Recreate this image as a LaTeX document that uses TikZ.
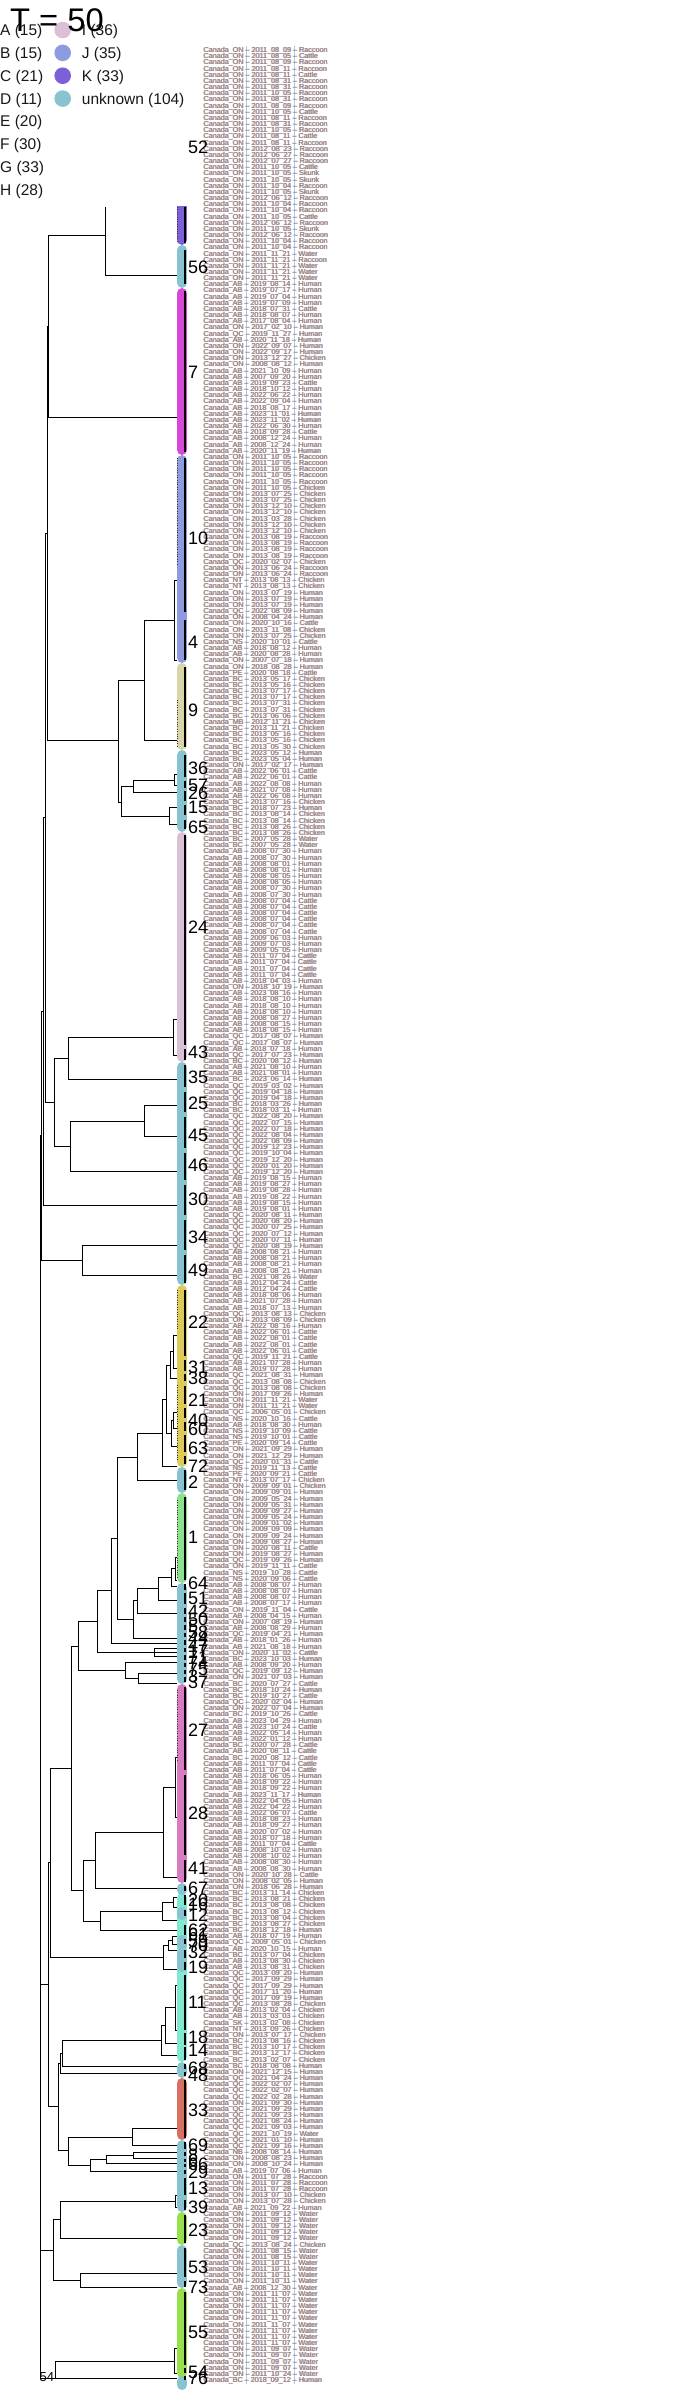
\documentclass[tikz,border=0pt]{standalone}
\usepackage{fontspec}
\setmainfont{Liberation Sans}
\definecolor{cK}{HTML}{7D60D9}
\definecolor{cJ}{HTML}{8E9BDF}
\definecolor{cI}{HTML}{D9C0D6}
\definecolor{cU}{HTML}{88C3D0}
\definecolor{cH}{HTML}{D848D8}
\definecolor{cD}{HTML}{D7D5A9}
\definecolor{cY}{HTML}{DCCA59}
\definecolor{cG}{HTML}{8DE08D}
\definecolor{cP}{HTML}{D77CC0}
\definecolor{cA}{HTML}{80E7D1}
\definecolor{cR}{HTML}{D77062}
\definecolor{cL}{HTML}{97E04C}
\definecolor{labdark}{HTML}{6A5870}
\definecolor{laborange}{HTML}{D6A06A}
\definecolor{labblue}{HTML}{7F96D8}
\definecolor{labline}{HTML}{A8CCF0}
\def\hR{Raccoon}\def\hC{Cattle}\def\hH{Human}\def\hK{Chicken}\def\hW{Water}\def\hS{Skunk}
\newcommand\br[5]{\draw[tree] (#3,#2)--(#1,#2)--(#1,#4)--(#5,#4);}
\begin{document}
\begin{tikzpicture}[x=1pt,y=-1pt,
  tree/.style={line width=0.9pt,black},
  lab/.style={anchor=base west,inner sep=0pt,font=\fontsize{7.2}{7.2}\selectfont},
  num/.style={anchor=base west,inner sep=0pt,font=\fontsize{18}{18}\selectfont},
  leg/.style={anchor=base west,inner sep=0pt,font=\fontsize{15.5}{15.5}\selectfont,text=black!90},
  midline/.style={line width=1.7pt,black},
  seg/.style={line width=10.6pt,line cap=round},
  tick/.style={line width=0.7pt,black!80,dash pattern=on 1pt off 1.4pt}]
\useasboundingbox (0,0) rectangle (672,2400);
\fill[white] (0,0) rectangle (672,2400);
\def\L{176.5}
% faint vertical guide lines in the label column
\draw[labline,line width=0.6pt] (246,46)--(246,2384);
\draw[labline,line width=0.6pt] (294,46)--(294,2384);
% ---------------- leaf labels ----------------
\foreach \pp/\yy/\mm/\dd/\hh [count=\i] in {
ON/2011/08/09/R,ON/2011/08/05/C,ON/2011/08/09/R,ON/2011/08/11/R,ON/2011/08/11/C,ON/2011/08/31/R,ON/2011/08/31/R,ON/2011/10/05/R,ON/2011/08/31/R,ON/2011/08/09/R,
ON/2011/10/05/C,ON/2011/08/11/R,ON/2011/08/31/R,ON/2011/10/05/R,ON/2011/08/11/C,ON/2011/08/11/R,ON/2012/08/23/R,ON/2012/06/27/R,ON/2012/07/27/R,ON/2011/10/05/C,
ON/2011/10/05/S,ON/2011/10/05/S,ON/2011/10/04/R,ON/2011/10/05/S,ON/2012/06/12/R,ON/2011/10/04/R,ON/2011/10/04/R,ON/2011/10/05/C,ON/2012/06/12/R,ON/2011/10/05/S,
ON/2012/06/12/R,ON/2011/10/04/R,ON/2011/10/04/R,ON/2011/11/21/W,ON/2011/11/21/R,ON/2011/11/21/W,ON/2011/11/21/W,ON/2011/11/21/W,
AB/2019/08/14/H,AB/2019/07/17/H,AB/2019/07/04/H,AB/2019/07/09/H,AB/2018/07/31/C,AB/2018/08/07/H,AB/2017/08/04/H,ON/2017/02/10/H,QC/2019/11/27/H,AB/2020/11/18/H,
ON/2022/09/07/H,ON/2022/09/17/H,ON/2013/12/27/K,ON/2008/08/12/H,AB/2021/10/09/H,AB/2007/09/20/H,AB/2019/09/23/C,AB/2018/10/12/H,AB/2022/06/22/H,AB/2022/09/04/H,
AB/2018/08/17/H,AB/2023/11/01/H,AB/2023/11/02/H,AB/2022/06/30/H,AB/2018/09/28/C,AB/2008/12/24/H,AB/2008/12/24/H,AB/2020/11/19/H,
ON/2011/10/05/R,ON/2011/10/05/R,ON/2011/10/05/R,
ON/2011/10/05/R,ON/2011/10/05/R,ON/2011/10/05/K,ON/2013/07/25/K,ON/2013/07/25/K,ON/2013/12/10/K,ON/2013/12/10/K,ON/2013/03/28/K,ON/2013/12/10/K,ON/2013/12/10/K,
ON/2013/08/19/R,ON/2013/08/19/R,ON/2013/08/19/R,ON/2013/08/19/R,QC/2020/02/07/K,ON/2013/06/24/R,ON/2013/06/24/R,NT/2013/08/13/K,NT/2013/08/13/K,ON/2013/07/19/H,
ON/2013/07/19/H,ON/2013/07/19/H,QC/2022/08/09/H,ON/2008/04/24/H,ON/2020/10/16/C,ON/2013/11/08/K,ON/2013/07/25/K,NS/2020/10/01/C,AB/2018/08/12/H,AB/2020/08/28/H,
ON/2007/07/18/H,ON/2018/08/28/H,PE/2020/08/18/C,BC/2013/05/17/K,BC/2013/05/16/K,BC/2013/07/17/K,BC/2013/07/17/K,BC/2013/07/31/K,BC/2013/07/31/K,BC/2013/06/06/K,
MB/2012/11/21/K,BC/2013/11/21/K,BC/2013/05/16/K,BC/2013/05/16/K,BC/2013/05/30/K,BC/2023/05/12/H,BC/2023/05/04/H,ON/2017/02/17/H,AB/2022/06/01/C,AB/2022/06/01/C,
AB/2022/08/08/H,AB/2021/07/08/H,AB/2022/06/08/H,BC/2013/07/16/K,BC/2018/07/23/H,BC/2013/08/14/K,BC/2013/08/14/K,BC/2013/08/26/K,BC/2013/08/26/K,BC/2007/05/28/W,
BC/2007/05/28/W,AB/2008/07/30/H,AB/2008/07/30/H,AB/2008/08/01/H,AB/2008/08/01/H,AB/2008/08/05/H,AB/2008/08/05/H,AB/2008/07/30/H,AB/2008/07/30/H,AB/2008/07/04/C,
AB/2008/07/04/C,AB/2008/07/04/C,AB/2008/07/04/C,AB/2008/07/04/C,AB/2008/07/04/C,AB/2009/06/03/H,AB/2009/07/03/H,AB/2009/05/05/H,AB/2011/07/04/C,AB/2011/07/04/C,
AB/2011/07/04/C,AB/2011/07/04/C,AB/2018/04/03/H,ON/2018/10/19/H,AB/2023/08/16/H,AB/2018/08/10/H,AB/2018/08/10/H,AB/2018/08/10/H,
AB/2008/08/27/H,AB/2008/08/15/H,AB/2018/08/15/H,QC/2017/08/07/H,QC/2017/08/07/H,AB/2018/07/18/H,QC/2017/07/23/H,
BC/2020/08/12/H,AB/2021/08/10/H,AB/2021/08/01/H,BC/2023/06/14/H,QC/2019/03/02/H,QC/2019/04/18/H,QC/2019/04/18/H,BC/2018/03/26/H,BC/2018/03/11/H,QC/2022/08/20/H,
QC/2022/07/15/H,QC/2022/07/18/H,QC/2022/08/04/H,QC/2022/08/09/H,QC/2019/12/23/H,QC/2019/10/04/H,QC/2019/12/20/H,QC/2020/01/20/H,QC/2019/12/20/H,AB/2019/08/15/H,
AB/2019/08/27/H,AB/2019/08/28/H,AB/2019/08/22/H,AB/2019/08/15/H,AB/2019/08/01/H,QC/2020/08/11/H,QC/2020/08/20/H,QC/2020/07/25/H,QC/2020/07/12/H,QC/2020/07/11/H,
QC/2020/08/19/H,AB/2008/08/21/H,AB/2008/08/21/H,AB/2008/08/21/H,AB/2008/08/21/H,BC/2021/08/26/W,
AB/2012/04/24/C,AB/2012/04/24/C,AB/2018/08/06/H,AB/2021/07/28/H,AB/2018/07/13/H,QC/2013/08/13/K,ON/2013/08/09/K,AB/2022/08/16/H,AB/2022/06/01/C,AB/2022/08/01/C,
AB/2022/08/01/C,AB/2022/06/01/C,QC/2019/11/21/C,AB/2021/07/28/H,AB/2019/07/28/H,QC/2021/08/31/H,QC/2013/08/08/K,QC/2013/08/08/K,
ON/2017/09/26/H,ON/2011/11/21/W,ON/2011/11/21/W,QC/2006/05/01/K,NS/2020/10/16/C,AB/2018/08/30/H,NS/2019/10/09/C,NS/2019/10/01/C,PE/2020/09/14/C,ON/2021/09/29/H,
ON/2021/12/29/H,QC/2020/01/31/C,NS/2019/11/13/C,PE/2020/09/21/C,NT/2013/07/17/K,ON/2009/09/01/K,ON/2009/09/01/H,ON/2009/05/24/H,ON/2009/05/31/H,ON/2009/09/27/H,
ON/2009/05/24/H,ON/2009/01/02/H,ON/2009/09/09/H,ON/2009/09/24/H,ON/2009/08/27/H,ON/2020/08/11/C,ON/2019/08/27/H,QC/2019/09/26/H,ON/2019/11/11/C,NS/2019/10/28/C,
NS/2020/09/06/C,AB/2008/08/07/H,AB/2008/08/07/H,AB/2008/08/07/H,AB/2008/07/17/H,ON/2019/11/04/C,AB/2008/04/15/H,ON/2007/08/19/H,AB/2008/08/29/H,QC/2019/04/21/H,
AB/2018/01/26/H,AB/2021/08/18/H,ON/2020/11/02/C,BC/2023/10/03/H,AB/2008/09/20/H,QC/2019/09/12/H,ON/2021/07/03/H,BC/2020/07/27/C,BC/2018/10/24/H,BC/2019/10/27/C,
QC/2020/02/04/H,ON/2022/07/04/H,BC/2019/10/26/C,AB/2023/04/29/H,AB/2023/10/24/C,AB/2022/05/14/H,AB/2022/01/12/H,BC/2020/07/28/C,AB/2020/08/11/C,BC/2020/08/12/C,
AB/2011/07/04/C,AB/2011/07/04/C,AB/2018/06/05/H,AB/2018/09/22/H,AB/2018/09/22/H,AB/2023/11/17/H,AB/2022/04/05/H,AB/2022/04/22/H,AB/2022/06/07/C,AB/2018/08/23/H,
AB/2018/09/27/H,AB/2020/07/02/H,AB/2018/07/18/H,AB/2011/07/04/C,AB/2008/10/02/H,AB/2008/10/02/H,AB/2008/08/30/H,AB/2008/08/30/H,ON/2020/10/28/C,ON/2008/02/05/H,
ON/2018/06/28/H,BC/2013/11/14/K,BC/2013/08/21/K,BC/2013/08/08/K,BC/2013/08/12/K,BC/2013/08/04/K,BC/2013/08/27/K,BC/2018/12/18/H,AB/2018/07/19/H,QC/2009/05/01/K,
AB/2020/10/15/H,BC/2013/07/04/K,AB/2013/08/30/K,AB/2013/08/31/K,QC/2013/09/20/H,QC/2017/09/29/H,QC/2017/09/29/H,QC/2017/11/20/H,QC/2017/09/19/H,QC/2013/08/28/K,
AB/2013/02/04/K,AB/2013/03/03/K,SK/2013/02/08/K,NT/2013/09/26/K,ON/2013/07/17/K,BC/2013/08/16/K,BC/2013/10/17/K,BC/2013/12/17/K,BC/2013/02/07/K,BC/2018/08/08/H,
ON/2021/12/15/H,QC/2021/04/24/H,QC/2022/02/07/H,QC/2022/02/07/H,QC/2022/02/28/H,ON/2021/09/30/H,QC/2021/09/29/H,QC/2021/09/23/H,QC/2021/08/24/H,QC/2021/09/03/H,
QC/2021/10/19/W,QC/2021/01/10/H,QC/2021/09/16/H,NB/2008/08/14/H,ON/2008/08/23/H,ON/2008/10/24/H,AB/2019/07/06/H,ON/2011/07/28/R,ON/2011/07/28/R,ON/2011/07/28/R,
ON/2013/07/10/K,ON/2013/07/28/K,AB/2021/09/22/H,ON/2011/09/12/W,ON/2011/09/12/W,ON/2011/09/12/W,ON/2011/09/12/W,ON/2011/09/12/W,QC/2013/08/24/K,ON/2011/08/15/W,
ON/2011/08/15/W,
ON/2011/10/11/W,ON/2011/10/11/W,ON/2011/10/11/W,ON/2011/10/11/W,AB/2008/12/30/W,ON/2011/11/07/W,ON/2011/11/07/W,ON/2011/11/07/W,ON/2011/11/07/W,ON/2011/11/07/W,
ON/2011/11/07/W,ON/2011/11/07/W,ON/2011/11/07/W,ON/2011/11/07/W,ON/2011/09/07/W,ON/2011/09/07/W,ON/2011/09/07/W,ON/2011/09/07/W,ON/2011/10/24/W,BC/2018/09/12/H}{
  \pgfmathsetmacro\ly{50+(\i-1)*6.164+2.6}
  \node[lab,text=labblue] at (203.8,\ly) {Canada\_\pp\ – \yy\_\mm\_\dd\ – \csname h\hh\endcsname};
  \node[lab,text=laborange] at (203,\ly) {Canada\_\pp\ – \yy\_\mm\_\dd\ – \csname h\hh\endcsname};
  \node[lab,text=labdark,opacity=0.5] (leaf\i) at (203.4,\ly) {Canada\_\pp\ – \yy\_\mm\_\dd\ – \csname h\hh\endcsname};
}
% ---------------- coloured bar ----------------
\begin{scope}
\clip (170,207) rectangle (196,2400);
\foreach \a/\b/\c in {288/455/cH,663/750/cD,832/1062/cI,1285/1467/cY,1493/1583/cG,1684/1883/cP,1893/2062/cA,2078/2140/cR,2212/2245/cL,2288/2378/cL,196/245/cK,455/663/cJ}
  \draw[seg,color=\c] (182,\a+5.3)--(182,\b-5.3);
\foreach \a/\b in {245/288,750/832,1062/1285,1467/1493,1583/1684,1883/1895,1907/1920,1935/1950,1948/1972,2062/2078,2140/2212,2245/2288,2376/2390}
  \draw[seg,color=cU] (182,\a+5.3)--(182,\b-5.3);
\foreach \a/\b in {207/243,458/565,700/746,1290/1330,1385/1460,1500/1578,1690/1760}
  \draw[tick] (177,\a)--(177,\b);
\foreach \a/\b in {207/243,250/284,291/452,458/612,620/660,667/747,755/777,781/788,791/801,805/815,820/829,835/1045,1049/1060,1065/1087,1092/1112,1117/1148,1153/1180,1185/1215,1220/1250,1255/1283,1290/1356,1360/1371,1374/1381,1386/1404,1408/1418,1422/1431,1435/1452,1456/1464,1470/1490,1497/1580,1584/1590,1593/1604,1608/1614,1617/1622,1625/1630,1633/1637,1640/1645,1648/1652,1655/1660,1663/1667,1670/1674,1677/1682,1687/1770,1775/1855,1860/1882,1886/1891,1895/1905,1910/1916,1925/1935,1939/1944,1950/1958,1962/1970,1975/2030,2033/2045,2047/2060,2064/2069,2072/2076,2080/2138,2142/2149,2152/2156,2159/2162,2164/2167,2170/2174,2178/2195,2200/2210,2215/2243,2248/2277,2281/2287,2292/2365,2368/2373,2376/2380}
  \draw[midline] (185.2,\a)--(185.2,\b);
\end{scope}
% ---------------- cluster numbers ----------------
\foreach \n/\y [count=\k] in {52/147,56/267,7/372,10/538,4/642,9/710,36/768,57/785,26/793,15/807,65/827,24/927,43/1052,35/1077,25/1103,45/1135,46/1165,30/1199,34/1237,49/1270,22/1322,31/1367,38/1378,21/1400,40/1420,60/1429,63/1448,72/1466,2/1482,1/1537,64/1583,51/1598,42/1611,50/1619,5/1626,58/1632,44/1638,47/1645,17/1651,71/1657,74/1663,75/1669,3/1676,37/1682,27/1730,28/1813,41/1868,67/1888,20/1900,16/1904,12/1915,62/1930,61/1934,59/1941,70/1945,32/1952,19/1967,11/2002,18/2037,14/2050,68/2068,48/2075,33/2110,69/2145,8/2155,6/2160,66/2164,29/2172,13/2188,39/2207,23/2230,53/2267,73/2287,55/2332,54/2372,76/2378}
  \node[num] (cl\k) at (187.8,\y+6.4) {\n};
% ---------------- dendrogram ----------------
\draw[tree] (105,207)--(105,275)--(\L,275);
\br{48.7}{235}{105}{417}{\L}
\br{47.7}{326}{48.7}{740}{118.3}
\br{118.3}{680}{144.3}{802}{121.3}
\br{144.3}{620}{174}{740}{\L}
\br{174}{580}{\L}{660}{\L}
\br{121.3}{786}{133.3}{816}{169.3}
\br{133.3}{780}{174.7}{792}{\L}
\br{174.7}{774}{\L}{785}{\L}
\br{169.3}{807}{\L}{824}{\L}
\br{45.5}{533}{47.7}{1102}{54.3}
\br{54.3}{1058}{68.3}{1146}{70.3}
\br{68.3}{1037}{173.3}{1079}{\L}
\br{173.3}{1019}{\L}{1055}{\L}
\br{70.3}{1121}{144.3}{1171}{\L}
\br{144.3}{1105}{\L}{1136}{\L}
\br{43.5}{817}{45.5}{1205}{\L}
\br{41.5}{1011}{43.5}{1260}{82.3}
\br{82.3}{1245}{\L}{1275}{\L}
\br{173.3}{1335}{\L}{1368}{\L}
\br{170}{1351}{173.3}{1378}{\L}
\br{173}{1412}{\L}{1428}{\L}
\br{171}{1420}{173}{1446}{\L}
\br{166}{1365}{170}{1433}{171}
\br{162.3}{1399}{166}{1466}{\L}
\br{137.3}{1433}{162.3}{1480}{\L}
\br{117.3}{1457}{137.3}{1619}{133.3}
\br{175}{1557}{\L}{1580}{\L}
\br{171.7}{1568}{175}{1586}{\L}
\br{158.3}{1577}{171.7}{1600}{\L}
\br{137.3}{1588}{158.3}{1613}{\L}
\br{133.3}{1600}{137.3}{1638}{\L}
\br{111}{1538}{117.3}{1643}{\L}
\br{97.3}{1590}{111}{1652}{\L}
\br{154}{1648}{\L}{1656}{\L}
\br{138.3}{1673}{\L}{1683}{\L}
\br{125}{1662}{\L}{1678}{138.3}
\br{78.3}{1621}{97.3}{1670}{125}
\br{71}{1646}{78.3}{1890}{83.3}
\br{175}{1757}{\L}{1817}{\L}
\br{163.3}{1787}{175}{1877}{\L}
\br{95.7}{1832}{163.3}{1888}{\L}
\br{173.3}{1897}{\L}{1907}{\L}
\br{162.3}{1902}{173.3}{1920}{\L}
\br{100}{1911}{162.3}{1930}{\L}
\br{83.3}{1860}{95.7}{1921}{100}
\br{172}{1936}{\L}{1944}{\L}
\br{168}{1940}{172}{1950}{\L}
\br{163.3}{1945}{168}{1969}{\L}
\br{50}{1768}{71}{1957}{163.3}
\br{175}{1985}{\L}{2030}{\L}
\br{165.7}{2007}{175}{2043}{\L}
\br{161.7}{2025}{165.7}{2055}{\L}
\br{62.3}{2040}{161.7}{2066}{\L}
\br{60}{2053}{62.3}{2073}{\L}
\br{132.7}{2128}{\L}{2145}{\L}
\br{133.3}{2152}{\L}{2158}{\L}
\br{106}{2155}{133.3}{2163}{\L}
\br{90}{2159}{106}{2171}{\L}
\br{68.3}{2137}{132.7}{2165}{90}
\br{58.3}{2063}{60}{2150}{68.3}
\br{48.7}{1862}{50}{2106}{58.3}
\br{175}{2195}{\L}{2207}{\L}
\br{60.7}{2201}{175}{2238}{\L}
\br{80.3}{2273}{\L}{2287}{\L}
\br{53.3}{2219}{60.7}{2280}{80.3}
\br{174.3}{2348}{\L}{2373}{\L}
\draw[tree] (174.3,2361)--(55,2361)--(55,2378)--(\L,2378);
\br{40.7}{1135.5}{41.5}{1984}{48.7}
\br{40.3}{1560}{40.7}{2250}{53.3}
\draw[tree] (40.3,1905)--(40,1905)--(40,2378)--(55,2378);
\node[anchor=base west,inner sep=0pt,font=\fontsize{13}{13}\selectfont] (root) at (39.5,2381) {54};
% ---------------- legend ----------------
\foreach \t [count=\k from 0] in {A (15),B (15),C (21),D (11),E (20),F (30),G (33),H (28)}
  \node[leg] (lg\k) at (0,30+\k*22.86+5.5) {\t};
\foreach \t/\c [count=\k from 0] in {I (36)/cI,J (35)/cJ,K (33)/cK,unknown (104)/cU}{
  \fill[\c] (62.7,30+\k*22.86) circle (8.3);
  \node[leg] (lr\k) at (81.7,30+\k*22.86+5.5) {\t};
}
\node[anchor=base west,inner sep=0pt,font=\fontsize{32.7}{32.7}\selectfont] (title) at (10,31.7) {T = 50};
\end{tikzpicture}
\end{document}
